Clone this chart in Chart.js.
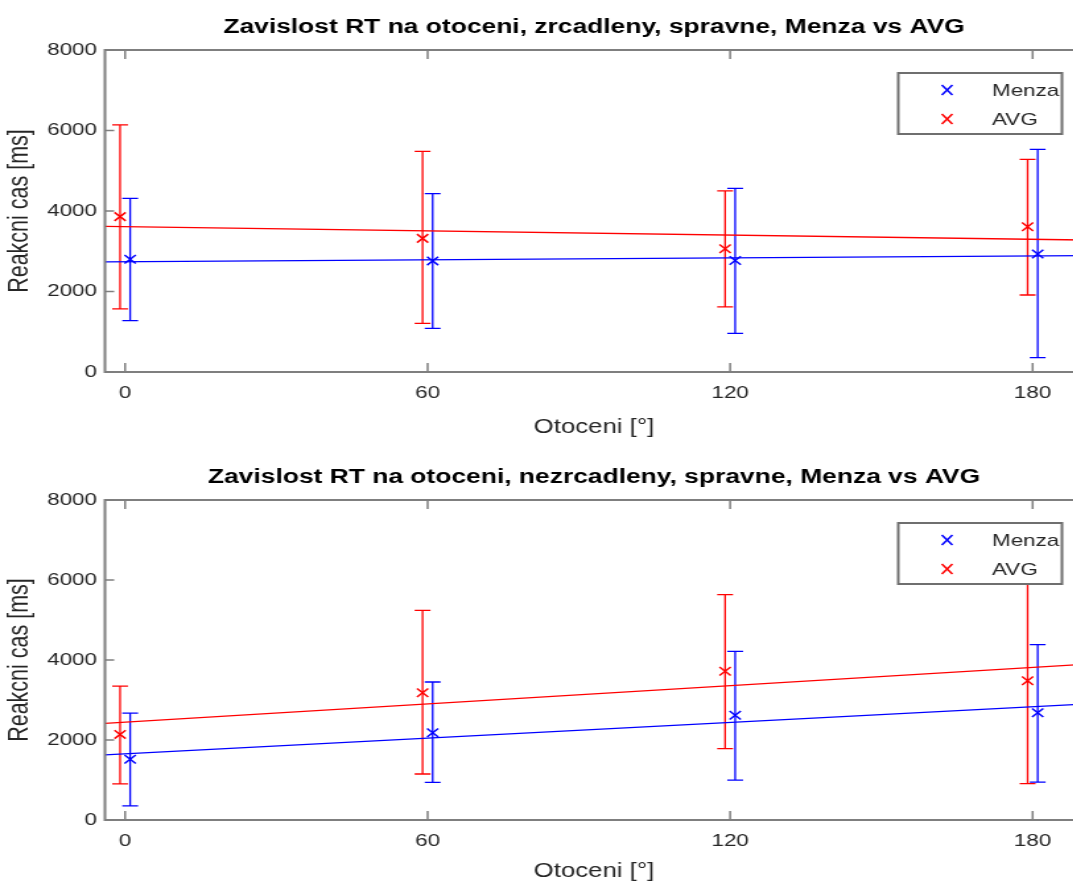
<!DOCTYPE html>
<html>
<head>
<meta charset="utf-8">
<title>Zavislost RT na otoceni</title>
<script src="https://cdn.jsdelivr.net/npm/chart.js@4"></script>
<style>
  html, body { margin: 0; padding: 0; background: #fff; overflow: hidden; }
  /* the reference figure is stretched horizontally, so the canvas is too */
  .plot { width: 1073px; height: 444px; overflow: hidden; }
  .plot canvas { transform: scaleX(1.32); transform-origin: 0 0; }
</style>
</head>
<body>
<div class="plot"><canvas id="zrcadleny" width="828" height="444"></canvas></div>
<div class="plot"><canvas id="nezrcadleny" width="828" height="444"></canvas></div>
<script>
// uhly otoceni (osa x)
const angles = [0, 60, 120, 180];
const xTickValues = [0, 60, 120, 180];
const fitX = [-4, 190];

// zrcadleny - prumery a chybove usecky
const menzaMirMean = [2800, 2760, 2770, 2930];
const menzaMirLow = [1275, 1085, 960, 355];
const menzaMirHigh = [4315, 4430, 4560, 5530];
const avgMirMean = [3860, 3320, 3060, 3610];
const avgMirLow = [1570, 1210, 1620, 1913];
const avgMirHigh = [6140, 5480, 4500, 5285];
const menzaMirFit = [2737, 2890];
const avgMirFit = [3620, 3280];

// nezrcadleny
const menzaMean = [1520, 2180, 2620, 2680];
const menzaLow = [355, 940, 995, 945];
const menzaHigh = [2670, 3450, 4215, 4385];
const avgMean = [2140, 3180, 3720, 3480];
const avgLow = [905, 1150, 1785, 910];
const avgHigh = [3345, 5240, 5635, 6050];
const menzaFit = [1630, 2895];
const avgFit = [2415, 3890];

const BLUE = '#0000ff';
const RED = '#ff0000';
const AXIS = '#7f7f7f';
const TEXT = '#262626';
const FONT = '"Liberation Sans", Arial, sans-serif';

// chybove usecky, ramecek os, legenda a titulek ve stylu MATLABu
function matlabLook (title, bars) {
  return {
    id: 'matlabLook',
    beforeDatasetsDraw (chart) {
      const {ctx, scales: {x, y}} = chart;
      ctx.save();
      ctx.lineWidth = 1.3;
      bars.forEach(b => {
        ctx.strokeStyle = b.color;
        b.x.forEach((xv, i) => {
          const px = x.getPixelForValue(xv);
          const top = y.getPixelForValue(b.high[i]);
          const bot = y.getPixelForValue(b.low[i]);
          ctx.beginPath();
          ctx.moveTo(px, top); ctx.lineTo(px, bot);
          ctx.moveTo(px - 6, top); ctx.lineTo(px + 6, top);
          ctx.moveTo(px - 6, bot); ctx.lineTo(px + 6, bot);
          ctx.stroke();
        });
      });
      ctx.restore();
    },
    afterDatasetsDraw (chart) {
      const {ctx, chartArea: a, scales: {x, y}} = chart;
      ctx.save();
      // ramecek a ticky dovnitr
      ctx.strokeStyle = AXIS;
      ctx.lineWidth = 2;
      ctx.strokeRect(a.left, a.top, a.right - a.left, a.bottom - a.top);
      ctx.lineWidth = 1.5;
      ctx.beginPath();
      x.ticks.forEach(t => {
        const px = x.getPixelForValue(t.value);
        ctx.moveTo(px, a.bottom); ctx.lineTo(px, a.bottom - 9);
        ctx.moveTo(px, a.top); ctx.lineTo(px, a.top + 9);
      });
      y.ticks.forEach(t => {
        const py = y.getPixelForValue(t.value);
        ctx.moveTo(a.left, py); ctx.lineTo(a.left + 7, py);
        ctx.moveTo(a.right, py); ctx.lineTo(a.right - 7, py);
      });
      ctx.stroke();

      // legenda
      const bw = 124, bh = 61;
      const bx = a.right - 16 - bw, by = a.top + 23;
      ctx.fillStyle = '#fff';
      ctx.fillRect(bx, by, bw, bh);
      ctx.strokeStyle = '#6f6f6f';
      ctx.lineWidth = 2;
      ctx.strokeRect(bx, by, bw, bh);
      ctx.font = '17px ' + FONT;
      ctx.textBaseline = 'middle';
      ctx.textAlign = 'left';
      [['Menza', BLUE, 17], ['AVG', RED, 46]].forEach(([name, color, dy]) => {
        const mx = bx + 37, my = by + dy;
        ctx.strokeStyle = color;
        ctx.lineWidth = 1.5;
        ctx.beginPath();
        ctx.moveTo(mx - 4, my - 5); ctx.lineTo(mx + 4, my + 5);
        ctx.moveTo(mx - 4, my + 5); ctx.lineTo(mx + 4, my - 5);
        ctx.stroke();
        ctx.fillStyle = TEXT;
        ctx.fillText(name, bx + 71, my + 1);
      });

      // titulek nad osami
      ctx.fillStyle = '#000';
      ctx.font = 'bold 20px ' + FONT;
      ctx.textAlign = 'center';
      ctx.fillText(title, (a.left + a.right) / 2, a.top - 23);
      ctx.restore();
    }
  };
}

function graf (id, title, topPad, xAxisHeight, s) {
  const pts = (vals, dx) => angles.map((ang, i) => ({x: ang + dx, y: vals[i]}));
  const fit = vals => fitX.map((fx, i) => ({x: fx, y: vals[i]}));
  const marker = (label, vals, dx, color) => ({
    label, data: pts(vals, dx), showLine: false,
    pointStyle: 'crossRot', pointRadius: 6, pointBorderWidth: 1.5,
    borderColor: color, backgroundColor: color
  });
  const line = (vals, color) => ({
    data: fit(vals), showLine: true, pointRadius: 0,
    borderColor: color, borderWidth: 1.3
  });

  new Chart(document.getElementById(id), {
    type: 'scatter',
    data: {
      datasets: [
        marker('Menza', s.menzaMean, 1, BLUE),
        marker('AVG', s.avgMean, -1, RED),
        line(s.menzaFit, BLUE),
        line(s.avgFit, RED)
      ]
    },
    options: {
      responsive: false,
      devicePixelRatio: 1,
      animation: false,
      events: [],
      layout: { padding: { top: topPad, left: 0, right: 7.5, bottom: 0 } },
      plugins: { legend: { display: false }, tooltip: { enabled: false } },
      scales: {
        x: {
          type: 'linear', min: fitX[0], max: fitX[1],
          afterBuildTicks: sc => { sc.ticks = xTickValues.map(v => ({value: v})); },
          afterFit: sc => { sc.height = xAxisHeight; },
          grid: { display: false, drawTicks: false },
          border: { display: false },
          ticks: { color: TEXT, font: { family: FONT, size: 17 }, padding: 11,
                   callback: v => String(v) },
          title: { display: true, text: 'Otoceni [°]', color: TEXT,
                   font: { family: FONT, size: 19.5 }, padding: { top: 0, bottom: 4.3 } }
        },
        y: {
          min: 0, max: 8000,
          afterFit: sc => { sc.width = 79.5; },
          grid: { display: false, drawTicks: false },
          border: { display: false },
          ticks: { stepSize: 2000, color: TEXT, font: { family: FONT, size: 17 }, padding: 6,
                   callback: v => String(v) },
          title: { display: true, text: 'Reakcni cas [ms]', color: TEXT,
                   font: { family: FONT, size: 21.5 }, padding: { top: 2, bottom: 0 } }
        }
      }
    },
    plugins: [matlabLook(title, [
      { x: angles.map(a => a - 1), low: s.avgLow, high: s.avgHigh, color: RED },
      { x: angles.map(a => a + 1), low: s.menzaLow, high: s.menzaHigh, color: BLUE }
    ])]
  });
}

graf('zrcadleny', 'Zavislost RT na otoceni, zrcadleny, spravne, Menza vs AVG', 50, 72, {
  menzaMean: menzaMirMean, menzaLow: menzaMirLow, menzaHigh: menzaMirHigh, menzaFit: menzaMirFit,
  avgMean: avgMirMean, avgLow: avgMirLow, avgHigh: avgMirHigh, avgFit: avgMirFit
});

graf('nezrcadleny', 'Zavislost RT na otoceni, nezrcadleny, spravne, Menza vs AVG', 56, 68, {
  menzaMean, menzaLow, menzaHigh, menzaFit,
  avgMean, avgLow, avgHigh, avgFit
});
</script>
</body>
</html>
